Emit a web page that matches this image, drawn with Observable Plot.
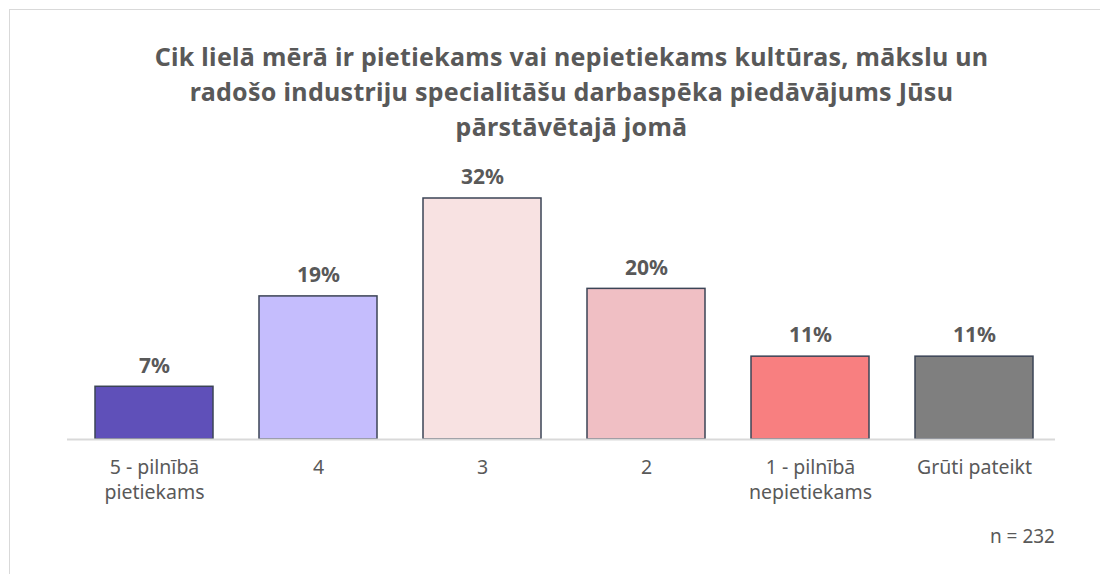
<!DOCTYPE html>
<html>
<head>
<meta charset="utf-8">
<script src="https://cdn.jsdelivr.net/npm/d3@7"></script>
<script src="https://cdn.jsdelivr.net/npm/@observablehq/plot@0.6"></script>
<style>
  html, body { margin: 0; padding: 0; background: #fff; width: 1100px; height: 574px; overflow: hidden; }
  #frame { position: absolute; left: 9px; top: 9px; width: 1200px; height: 700px;
           border-top: 1px solid #d9d9d9; border-left: 1px solid #d9d9d9; }
  #title { position: absolute; left: 0; top: 39px; width: 1143px; text-align: center;
           font-family: "Noto Sans", sans-serif; font-weight: 700; font-size: 25px; letter-spacing: 0.3px;
           line-height: 35px; color: #595959; }
  #chart { position: absolute; left: 0; top: 160px; }
  #note { position: absolute; right: 45px; top: 523px; font-family: "Noto Sans", sans-serif;
          font-size: 19px; color: #595959; }
</style>
</head>
<body>
<div id="frame"></div>
<div id="title">Cik lielā mērā ir pietiekams vai nepietiekams kultūras, mākslu un<br>radošo industriju specialitāšu darbaspēka piedāvājums Jūsu<br>pārstāvētajā jomā</div>
<div id="chart"></div>
<div id="note">n = 232</div>
<script>
const categories = ["5 - pilnībā\npietiekams", "4", "3", "2", "1 - pilnībā\nnepietiekams", "Grūti pateikt"];
const values = [7, 19, 32, 20, 11, 11];
const colors = ["#5f50b9", "#c5bdfd", "#f8e2e2", "#f0bfc4", "#f87f80", "#7f7f7f"];

const data = categories.map((c, i) => ({cat: c, value: values[i], color: colors[i]}));

const plot = Plot.plot({
  width: 1100,
  height: 400,
  marginLeft: 70,
  marginRight: 42,
  marginTop: 38,
  marginBottom: 121,
  style: {fontFamily: "'Noto Sans', sans-serif", overflow: "visible", background: "transparent"},
  x: {domain: categories, paddingInner: 0.28, paddingOuter: 0.14, axis: null},
  y: {domain: [0, 32], axis: null},
  marks: [
    Plot.barY(data, {x: "cat", y: "value", fill: "color", stroke: "#3b4456", strokeWidth: 1.5}),
    Plot.ruleY([0], {stroke: "#d9d9d9", strokeWidth: 2, dx: -3}),
    Plot.text(data, {x: "cat", y: "value", text: d => d.value + "%", dy: -21, fontSize: 21, fontWeight: 700, fill: "#595959"}),
    Plot.text(data, {x: "cat", y: () => 0, text: "cat", lineAnchor: "top", dy: 16, fontSize: 19.5, lineHeight: 1.3, fill: "#595959"})
  ]
});
document.getElementById("chart").appendChild(plot);
</script>
</body>
</html>
